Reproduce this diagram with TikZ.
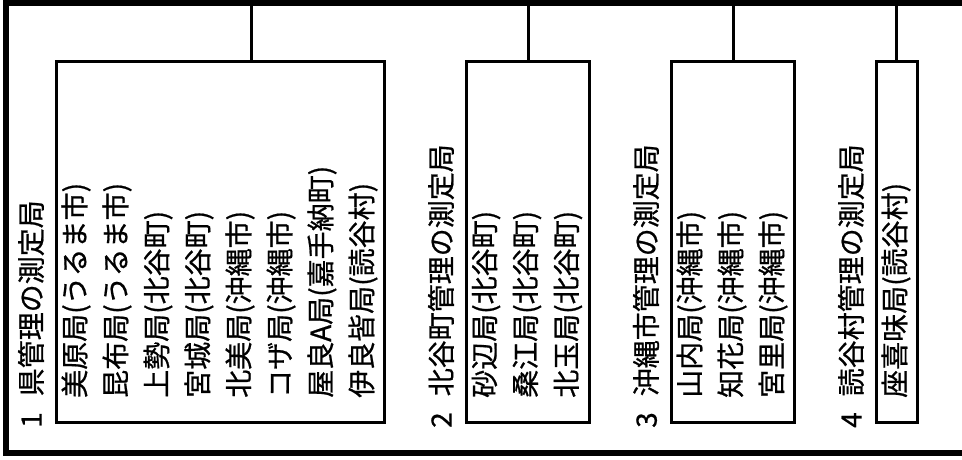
\documentclass[tikz,border=0pt]{standalone}
\usepackage{fontspec}
\setmainfont{Noto Sans CJK JP}
\newfontfamily\jpfont[FakeBold=0.7]{Noto Sans CJK JP}
\begin{document}
\begin{tikzpicture}[x=1pt,y=-1pt,
  frameline/.style={line width=6pt},
  boxline/.style={line width=3pt},
  stationbox/.style={draw, line width=3pt, inner sep=0pt},
  station/.style={rotate=90, anchor=west, inner sep=0pt, font=\jpfont\fontsize{28}{30}\selectfont},
  heading/.style={station}]
  \useasboundingbox (0,0) rectangle (962,459);
  \coordinate (topright) at (962,3); % Right end of the top line
  \coordinate (topline) at (6,3); % Top left corner
  \coordinate (bottomline) at (6,453); % Bottom left corner
  \coordinate (bottomright) at (962,453); % Right end of the bottom line
  \draw[frameline] (topright) -- (topline) -- (bottomline) -- (bottomright); % Draw the open frame
  \node[stationbox, minimum width=327.5pt, minimum height=361pt] (kenbox) at (220.25,241.5) {}; % Box of group 1
  \node[stationbox, minimum width=123pt, minimum height=361pt] (chatanbox) at (528,241.5) {}; % Box of group 2
  \node[stationbox, minimum width=123pt, minimum height=361pt] (okinawabox) at (733,241.5) {}; % Box of group 3
  \node[stationbox, minimum width=40.5pt, minimum height=361pt] (yomitanbox) at (896.75,241.5) {}; % Box of group 4
  \coordinate (kenjoin) at (251.5,3); % Where box 1 hangs from the top line
  \draw[boxline] (kenjoin) -- (kenjoin |- kenbox.north); % Connector of box 1
  \draw[boxline] (chatanbox.north) -- (chatanbox.north |- topline); % Connector of box 2
  \draw[boxline] (okinawabox.north) -- (okinawabox.north |- topline); % Connector of box 3
  \draw[boxline] (yomitanbox.north) -- (yomitanbox.north |- topline); % Connector of box 4
  \node[heading] (kenhead) at (31,428) {1\hspace{16pt}県管理の測定局}; % Heading of group 1
  \node[station] (mihara) at (76,398) {美原局(うるま市)}; % Stations of group 1
  \node[station] (konbu) at (117,398) {昆布局(うるま市)};
  \node[station] (uesedo) at (158,398) {上勢局(北谷町)};
  \node[station] (miyagi) at (199,398) {宮城局(北谷町)};
  \node[station] (kitami) at (240,398) {北美局(沖縄市)};
  \node[station] (koza) at (281,398) {コザ局(沖縄市)};
  \node[station] (yara) at (322,398) {屋良A局(嘉手納町)};
  \node[station] (irabina) at (363,398) {伊良皆局(読谷村)};
  \node[heading] (chatanhead) at (441,428) {2\hspace{16pt}北谷町管理の測定局}; % Heading of group 2
  \node[station] (sunabe) at (486,398) {砂辺局(北谷町)}; % Stations of group 2
  \node[station] (kuwae) at (527,398) {桑江局(北谷町)};
  \node[station] (kitatama) at (568,398) {北玉局(北谷町)};
  \node[heading] (okinawahead) at (646,428) {3\hspace{16pt}沖縄市管理の測定局}; % Heading of group 3
  \node[station] (yamauchi) at (691,398) {山内局(沖縄市)}; % Stations of group 3
  \node[station] (chibana) at (732,398) {知花局(沖縄市)};
  \node[station] (miyazato) at (773,398) {宮里局(沖縄市)};
  \node[heading] (yomitanhead) at (851,428) {4\hspace{16pt}読谷村管理の測定局}; % Heading of group 4
  \node[station] (zakimi) at (896,398) {座喜味局(読谷村)}; % Station of group 4
\end{tikzpicture}
\end{document}
